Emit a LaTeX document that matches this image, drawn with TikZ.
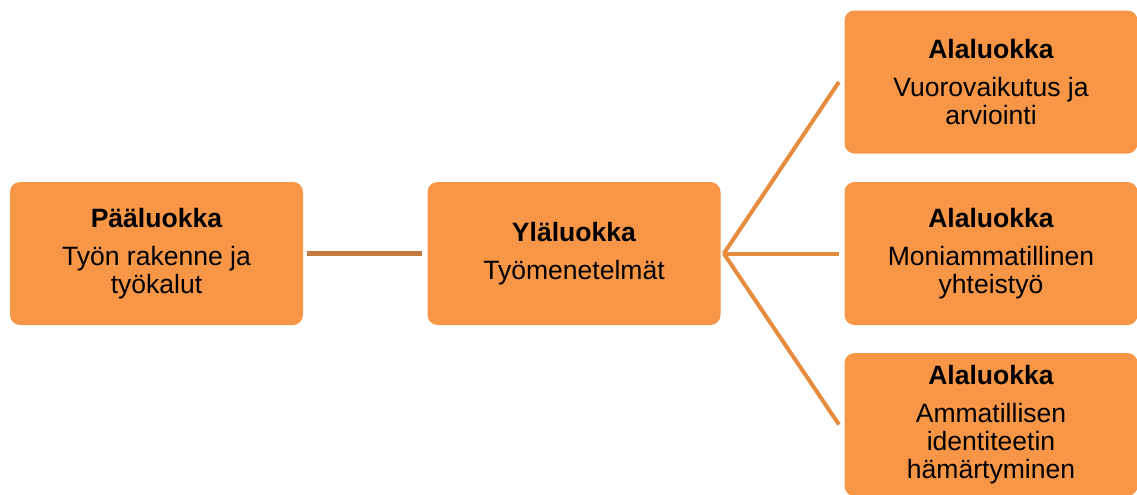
\documentclass[tikz,border=0pt]{standalone}
\usepackage{fontspec}
\setmainfont{Liberation Sans}
\usetikzlibrary{calc}
\definecolor{boxfill}{HTML}{F79646}
\definecolor{linkA}{HTML}{C47B42}
\definecolor{linkB}{HTML}{E58C3E}
\begin{document}
\begin{tikzpicture}[x=0.75pt,y=-0.75pt,
  box/.style={fill=boxfill, rounded corners=7.5pt, minimum width=219.75pt,
    minimum height=107.25pt, align=center, inner sep=0pt,
    font=\fontsize{19.9}{21}\selectfont},
  linkleft/.style={draw=linkA, line width=3.4pt},
  linkfan/.style={draw=linkB, line width=3pt}]
\useasboundingbox (0,0) rectangle (1137,494);
\node[box] (L) at (156.5,253.5) {\textbf{Pääluokka}\\[7.5pt]Työn rakenne ja\\työkalut};
\node[box] (M) at (574,253.5) {\textbf{Yläluokka}\\[7.5pt]Työmenetelmät};
\node[box] (R1) at (991,82) {\textbf{Alaluokka}\\[7.5pt]Vuorovaikutus ja\\arviointi};
\node[box] (R2) at (991,253.5) {\textbf{Alaluokka}\\[7.5pt]Moniammatillinen\\yhteistyö};
\node[box] (R3) at (991,424.5) {\textbf{Alaluokka}\\[7.5pt]Ammatillisen\\identiteetin\\hämärtyminen};
\draw[linkleft] ([xshift=3pt]L.east) -- ([xshift=-4pt]M.west);
\coordinate (fan) at ([xshift=2.25pt]M.east);
\draw[linkfan] (fan) -- ([xshift=-4pt]R1.west);
\draw[linkfan] (fan) -- ([xshift=-4pt]R2.west);
\draw[linkfan] (fan) -- ([xshift=-4pt]R3.west);
\end{tikzpicture}
\end{document}
